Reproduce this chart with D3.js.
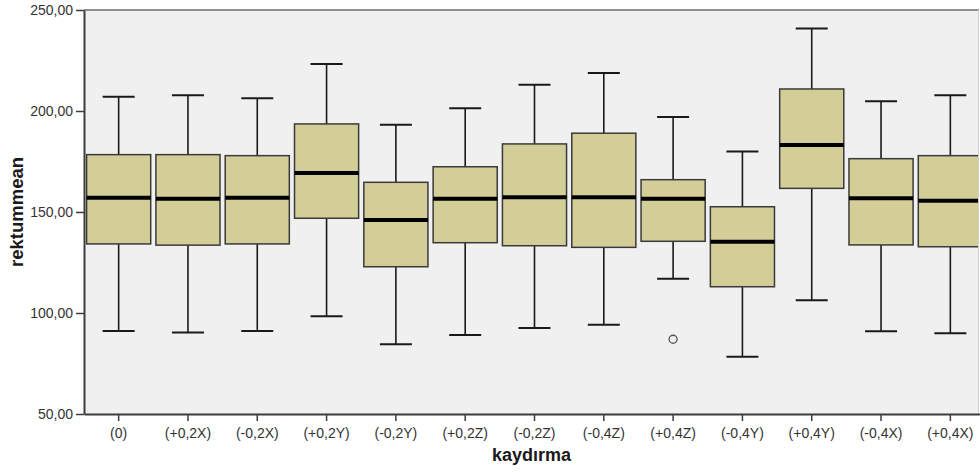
<!DOCTYPE html>
<html>
<head>
<meta charset="utf-8">
<script src="https://cdn.jsdelivr.net/npm/d3@7"></script>
<style>
  html, body { margin: 0; padding: 0; background: #fff; overflow: hidden; }
  svg { display: block; }
  text { font-family: "Liberation Sans", Arial, sans-serif; }
</style>
</head>
<body>
<script>
// Boxplot of rektummean by kaydirma

const categories = ["(0)", "(+0,2X)", "(-0,2X)", "(+0,2Y)", "(-0,2Y)", "(+0,2Z)", "(-0,2Z)",
                    "(-0,4Z)", "(+0,4Z)", "(-0,4Y)", "(+0,4Y)", "(-0,4X)", "(+0,4X)"];
const whiskerLow  = [91.1, 90.4, 91.1, 98.4, 84.5, 89.1, 92.6, 94.2, 117.0, 78.4, 106.3, 91.0, 90.0];
const q1          = [134.2, 133.6, 134.2, 146.9, 122.9, 134.8, 133.3, 132.5, 135.5, 113.0, 161.7, 133.7, 132.8];
const median      = [157.1, 156.6, 157.1, 169.3, 146.0, 156.6, 157.3, 157.3, 156.6, 135.3, 183.2, 156.8, 155.6];
const q3          = [178.4, 178.4, 177.9, 193.6, 164.7, 172.4, 183.7, 189.0, 166.0, 152.6, 210.9, 176.4, 177.9];
const whiskerHigh = [207.1, 207.8, 206.3, 223.3, 193.2, 201.3, 213.0, 218.8, 197.0, 179.9, 240.9, 204.8, 207.8];
const outliers    = [{cat: "(+0,4Z)", value: 87.0}];
const yTicks = [50, 100, 150, 200, 250];

const width = 980, height = 472;
const margin = {top: 10, right: 1, left: 84, bottom: 58};
const innerWidth = width - margin.left - margin.right;
const innerHeight = height - margin.top - margin.bottom;

const svg = d3.select("body").append("svg")
    .attr("width", width)
    .attr("height", height);

const g = svg.append("g")
    .attr("transform", "translate(" + margin.left + "," + margin.top + ")");

const x = d3.scaleBand().domain(categories).range([0, 901]).paddingInner(0.075).paddingOuter(0.0375);
const y = d3.scaleLinear().domain([50, 250]).range([innerHeight, 0]);

const fmt = d => d.toFixed(2).replace(".", ",");

// plot background
g.append("rect")
    .attr("width", innerWidth).attr("height", innerHeight)
    .attr("fill", "#f0f0f0");

svg.append("clipPath").attr("id", "clip")
  .append("rect").attr("width", innerWidth).attr("height", innerHeight + 2).attr("y", -1);

const data = categories.map((c, i) => ({
    cat: c, lo: whiskerLow[i], q1: q1[i], med: median[i], q3: q3[i], hi: whiskerHigh[i]
}));

const plot = g.append("g").attr("clip-path", "url(#clip)");
const bw = x.bandwidth();
const capW = 32;

const boxes = plot.selectAll(".box").data(data).join("g")
    .attr("class", "box")
    .attr("transform", d => "translate(" + (x(d.cat) + bw / 2) + ",0)");

// whiskers
boxes.append("line")
    .attr("y1", d => y(d.hi)).attr("y2", d => y(d.q3))
    .attr("stroke", "#1a1a1a").attr("stroke-width", 1.6);
boxes.append("line")
    .attr("y1", d => y(d.lo)).attr("y2", d => y(d.q1))
    .attr("stroke", "#1a1a1a").attr("stroke-width", 1.6);
boxes.append("line")
    .attr("x1", -capW / 2).attr("x2", capW / 2)
    .attr("y1", d => y(d.hi)).attr("y2", d => y(d.hi))
    .attr("stroke", "#1a1a1a").attr("stroke-width", 2);
boxes.append("line")
    .attr("x1", -capW / 2).attr("x2", capW / 2)
    .attr("y1", d => y(d.lo)).attr("y2", d => y(d.lo))
    .attr("stroke", "#1a1a1a").attr("stroke-width", 2);

// box
boxes.append("rect")
    .attr("x", -bw / 2).attr("width", bw)
    .attr("y", d => y(d.q3)).attr("height", d => y(d.q1) - y(d.q3))
    .attr("fill", "#d3ce97").attr("stroke", "#3a3a3a").attr("stroke-width", 1.5);

// median
boxes.append("line")
    .attr("x1", -bw / 2).attr("x2", bw / 2)
    .attr("y1", d => y(d.med)).attr("y2", d => y(d.med))
    .attr("stroke", "#000").attr("stroke-width", 4);

// outliers
plot.selectAll(".outlier").data(outliers).join("circle")
    .attr("class", "outlier")
    .attr("cx", d => x(d.cat) + bw / 2)
    .attr("cy", d => y(d.value))
    .attr("r", 4)
    .attr("fill", "none").attr("stroke", "#555").attr("stroke-width", 1.3);

// frame: top and right light border
g.append("line").attr("x1", 0).attr("x2", innerWidth).attr("y1", 0).attr("y2", 0)
    .attr("stroke", "#6e6e6e").attr("stroke-width", 1.5);
g.append("line").attr("x1", innerWidth - 0.5).attr("x2", innerWidth - 0.5).attr("y1", 0).attr("y2", innerHeight)
    .attr("stroke", "#cfcfcf").attr("stroke-width", 1);

// axes
const yAxis = g.append("g")
    .call(d3.axisLeft(y).tickValues(yTicks).tickFormat(fmt).tickSize(8).tickSizeOuter(0));
const xAxis = g.append("g")
    .attr("transform", "translate(0," + innerHeight + ")")
    .call(d3.axisBottom(x).tickSize(7).tickSizeOuter(0));

[yAxis, xAxis].forEach(a => {
    a.attr("font-size", 14).attr("font-family", "'Liberation Sans', Arial, sans-serif");
    a.select(".domain").attr("stroke", "#3c3c3c").attr("stroke-width", 2);
    a.selectAll(".tick line").attr("stroke", "#3c3c3c").attr("stroke-width", 1.5);
    a.selectAll(".tick text").attr("fill", "#333");
});
yAxis.selectAll(".tick text").attr("x", -11);
xAxis.selectAll(".tick text").attr("y", 14);

// axis titles
svg.append("text")
    .attr("x", margin.left + innerWidth / 2)
    .attr("y", 461)
    .attr("text-anchor", "middle")
    .attr("font-size", 18).attr("font-weight", "bold").attr("fill", "#1a1a1a")
    .text("kaydırma");

svg.append("text")
    .attr("transform", "translate(23," + (margin.top + innerHeight / 2) + ") rotate(-90)")
    .attr("text-anchor", "middle")
    .attr("font-size", 18.5).attr("font-weight", "bold").attr("fill", "#1a1a1a")
    .text("rektummean");
</script>
</body>
</html>
